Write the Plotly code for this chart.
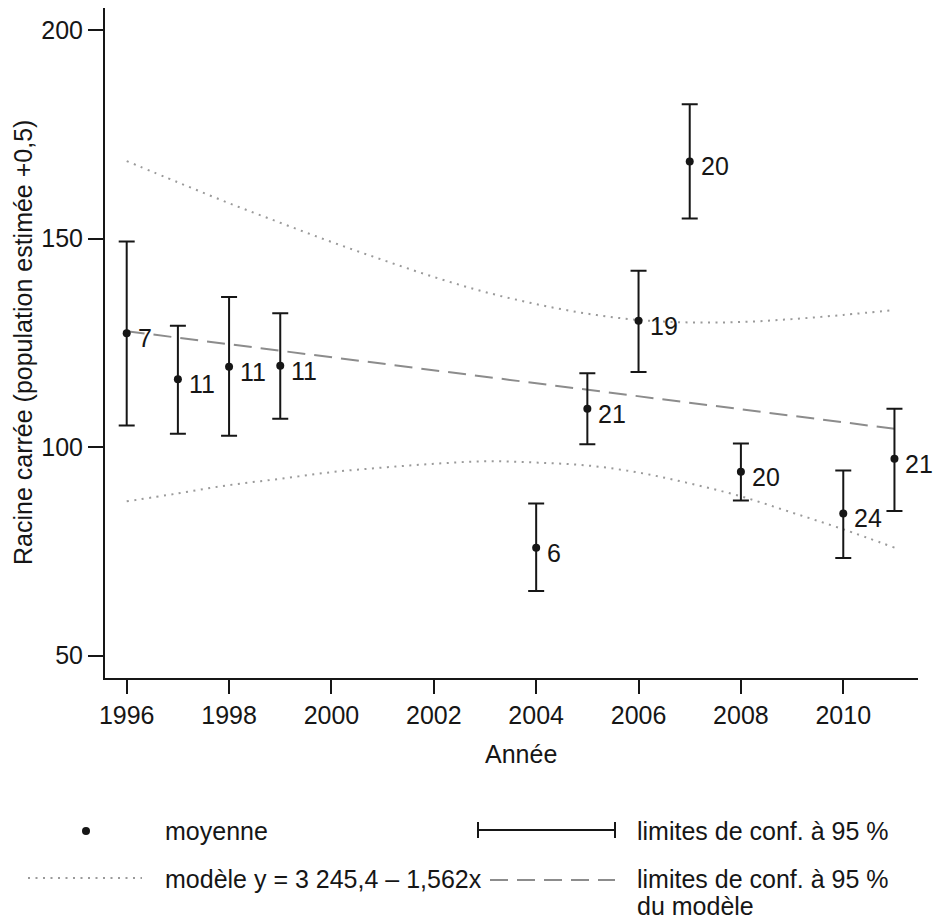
import plotly.graph_objects as go

# ---------------- data ----------------
years = [1996, 1997, 1998, 1999, 2004, 2005, 2006, 2007, 2008, 2010, 2011]
means = [127.3, 116.3, 119.3, 119.5, 75.9, 109.2, 130.3, 168.5, 94.1, 84.1, 97.2]
ci_upper = [149.3, 129.1, 136.0, 132.1, 86.5, 117.7, 142.3, 182.2, 100.9, 94.4, 109.2]
ci_lower = [105.2, 103.2, 102.7, 106.8, 65.5, 100.7, 118.0, 154.8, 87.2, 73.4, 84.7]
n_obs = [7, 11, 11, 11, 6, 21, 19, 20, 20, 24, 21]

model_years = [1996, 2011]
model_values = [127.8, 104.4]

band_years = list(range(1996, 2012))
band_upper = [168.6, 163.5, 158.5, 153.8, 149.2, 144.9, 140.8, 137.2,
              134.3, 132.0, 130.5, 129.9, 130.0, 130.7, 131.7, 132.9]
band_lower = [87.0, 88.9, 90.9, 92.4, 94.0, 95.1, 96.0, 96.6,
              96.3, 95.6, 93.9, 91.3, 88.2, 84.3, 80.3, 75.9]

x_ticks = [1996, 1998, 2000, 2002, 2004, 2006, 2008, 2010]
y_ticks = [50, 100, 150, 200]

x_title = "Année"
y_title = "Racine carrée (population estimée +0,5)"
leg_mean = "moyenne"
leg_ci = "limites de conf. à 95 %"
leg_model = "modèle y = 3 245,4 – 1,562x"
leg_model_ci = ["limites de conf. à 95 %", "du modèle"]

# ---------------- layout helpers ----------------
W, H = 933, 922
L, R, T, B = 105, 15, 8, 244
PW, PH = W - L - R, H - T - B


def px(x):
    return (x - L) / PW


def py(y):
    return (H - B - y) / PH


FONT = "Liberation Sans, Arial, Helvetica, sans-serif"
FS = 25
INK = "#161616"
DOT_COLOR = "#9a9a9a"
DASH_COLOR = "#8c8c8c"
DOT_DASH = "2px,5.5px"
LONG_DASH = "18px,9px"

fig = go.Figure()

# model confidence limits (dotted)
for band in (band_upper, band_lower):
    fig.add_trace(go.Scatter(
        x=band_years, y=band, mode="lines",
        line=dict(color=DOT_COLOR, width=2, dash=DOT_DASH, shape="spline"),
        hoverinfo="skip", showlegend=False))

# model line (dashed)
fig.add_trace(go.Scatter(
    x=model_years, y=model_values, mode="lines",
    line=dict(color=DASH_COLOR, width=2, dash=LONG_DASH),
    hoverinfo="skip", showlegend=False))

# means with 95% CI
fig.add_trace(go.Scatter(
    x=years, y=means, mode="markers",
    marker=dict(color=INK, size=8),
    error_y=dict(type="data", symmetric=False,
                 array=[u - m for u, m in zip(ci_upper, means)],
                 arrayminus=[m - l for m, l in zip(means, ci_lower)],
                 color=INK, thickness=2, width=8),
    showlegend=False))

annotations = []
for x, y, n in zip(years, means, n_obs):
    annotations.append(dict(x=x, y=y, xref="x", yref="y", text=str(n),
                            showarrow=False, xanchor="left", yanchor="middle",
                            xshift=9, yshift=-5,
                            font=dict(family=FONT, size=FS, color=INK)))

# axis titles
annotations.append(dict(x=px(23), y=0.5, xref="paper", yref="paper", text=y_title,
                        textangle=-90, showarrow=False, xanchor="center", yanchor="middle",
                        font=dict(family=FONT, size=FS, color=INK)))
annotations.append(dict(x=px(521), y=py(754), xref="paper", yref="paper", text=x_title,
                        showarrow=False, xanchor="center", yanchor="middle",
                        font=dict(family=FONT, size=FS, color=INK)))


# legend texts
def leg_text(x, y, t):
    annotations.append(dict(x=px(x), y=py(y), xref="paper", yref="paper", text=t,
                            showarrow=False, xanchor="left", yanchor="middle",
                            font=dict(family=FONT, size=FS, color=INK)))


leg_text(163, 831, leg_mean)
leg_text(635, 831, leg_ci)
leg_text(163, 879, leg_model)
leg_text(635, 879, leg_model_ci[0])
leg_text(635, 906, leg_model_ci[1])

shapes = [
    # legend: mean dot
    dict(type="circle", xref="paper", yref="paper",
         x0=px(82), x1=px(90), y0=py(835), y1=py(827),
         fillcolor=INK, line=dict(width=0)),
    # legend: CI bar
    dict(type="line", xref="paper", yref="paper", x0=px(478), x1=px(615),
         y0=py(830), y1=py(830), line=dict(color=INK, width=2)),
    dict(type="line", xref="paper", yref="paper", x0=px(478), x1=px(478),
         y0=py(822), y1=py(838), line=dict(color=INK, width=2)),
    dict(type="line", xref="paper", yref="paper", x0=px(615), x1=px(615),
         y0=py(822), y1=py(838), line=dict(color=INK, width=2)),
    # legend: dotted
    dict(type="line", xref="paper", yref="paper", x0=px(28), x1=px(142),
         y0=py(878), y1=py(878), line=dict(color=DOT_COLOR, width=2, dash=DOT_DASH)),
    # legend: dashed
    dict(type="line", xref="paper", yref="paper", x0=px(490), x1=px(615),
         y0=py(880), y1=py(880), line=dict(color=DASH_COLOR, width=2, dash=LONG_DASH)),
]

axis_common = dict(showgrid=False, zeroline=False, showline=True, linecolor=INK,
                   linewidth=2, ticks="outside", tickwidth=2, tickcolor=INK,
                   tickfont=dict(family=FONT, size=FS, color=INK))

fig.update_layout(
    width=W, height=H,
    margin=dict(l=L, r=R, t=T, b=B),
    paper_bgcolor="white", plot_bgcolor="white",
    xaxis=dict(range=[1995.576, 2011.46], tickvals=x_ticks, ticklen=14, **axis_common),
    yaxis=dict(range=[44.64, 205.3], tickvals=y_ticks, ticklen=15, **axis_common),
    annotations=annotations, shapes=shapes,
    showlegend=False,
)

fig.write_html(
    "out.html",
    config={"displayModeBar": False},
    post_script="document.body.style.margin='0';document.body.style.overflow='hidden';",
)
